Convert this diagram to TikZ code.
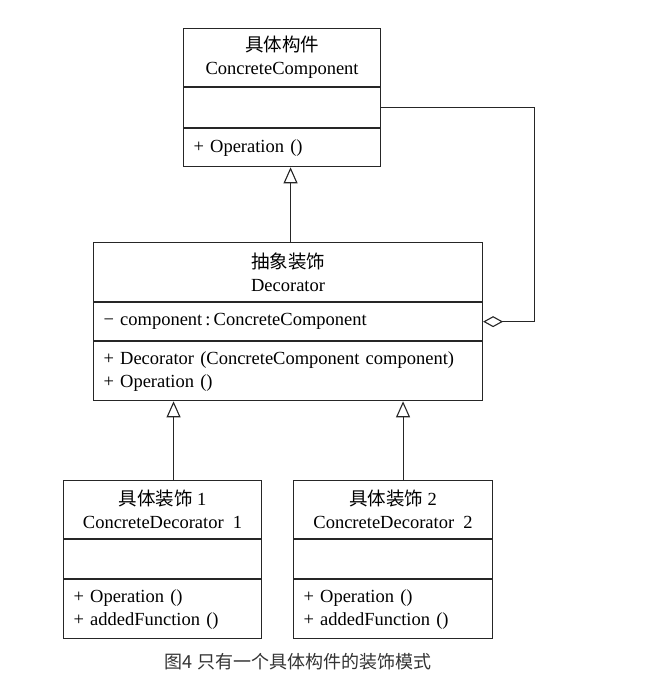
\documentclass[tikz,border=0pt]{standalone}
\usepackage{fontspec}
\setmainfont{Liberation Serif}
\newfontfamily\cjk{Noto Sans CJK SC}
\usetikzlibrary{positioning,arrows.meta}
\begin{document}
\begin{tikzpicture}[x=1pt,y=-1pt,
    font=\fontsize{18.5}{23}\selectfont,
    part/.style={draw=black!85, line width=1.1pt, inner sep=0pt, minimum height=#1},
    namepart/.style={part=#1, align=center, anchor=north west},
    opspart/.style={part=#1, align=left, inner xsep=10pt},
    gen/.style={-{Triangle[open,width=14pt,length=16pt]}, line width=1.1pt, draw=black!85},
    agg/.style={{Diamond[open,width=11pt,length=20pt]}-, line width=1.1pt, draw=black!85}]
    \useasboundingbox (0,0) rectangle (652,684);
    % ConcreteComponent
    \node[namepart=58, minimum width=197pt] (cc-name) at (183,28) {{\cjk 具体构件}\\ConcreteComponent};
    \node[opspart=40, text width=177pt, below=0pt of cc-name] (cc-attr) {};
    \node[opspart=38, text width=177pt, below=0pt of cc-attr] (cc-ops) {+ Operation ()};
    % Decorator
    \node[namepart=59, minimum width=389pt] (dec-name) at (93,242) {{\cjk 抽象装饰}\\Decorator};
    \node[opspart=38, text width=369pt, below=0pt of dec-name] (dec-attr) {− component\,:\,ConcreteComponent};
    \node[opspart=59, text width=369pt, below=0pt of dec-attr] (dec-ops) {+ Decorator (ConcreteComponent component)\\+ Operation ()};
    % ConcreteDecorator 1
    \node[namepart=58, minimum width=198pt] (left-name) at (63,480) {{\cjk 具体装饰} 1\\ConcreteDecorator~~1};
    \node[opspart=39, text width=178pt, below=0pt of left-name] (left-attr) {};
    \node[opspart=59, text width=178pt, below=0pt of left-attr] (left-ops) {+ Operation ()\\+ addedFunction ()};
    % ConcreteDecorator 2
    \node[namepart=58, minimum width=199pt] (right-name) at (293,480) {{\cjk 具体装饰} 2\\ConcreteDecorator~~2};
    \node[opspart=39, text width=179pt, below=0pt of right-name] (right-attr) {};
    \node[opspart=59, text width=179pt, below=0pt of right-attr] (right-ops) {+ Operation ()\\+ addedFunction ()};
    % generalization
    \draw[gen] ([xshift=2.5pt]dec-name.north) -- ([xshift=2.5pt]dec-name.north |- cc-ops.south);
    \draw[gen] ([xshift=11pt]left-name.north) -- ([xshift=11pt]left-name.north |- dec-ops.south);
    \draw[gen] ([xshift=10pt]right-name.north) -- ([xshift=10pt]right-name.north |- dec-ops.south);
    % aggregation
    \draw[agg] (dec-attr.east) -- ++(51,0) |- (cc-attr.east);
    % caption
    \node[text=black!80, font=\cjk\fontsize{18}{20}\selectfont] (caption) at (298,662) {图4 只有一个具体构件的装饰模式};
\end{tikzpicture}
\end{document}
